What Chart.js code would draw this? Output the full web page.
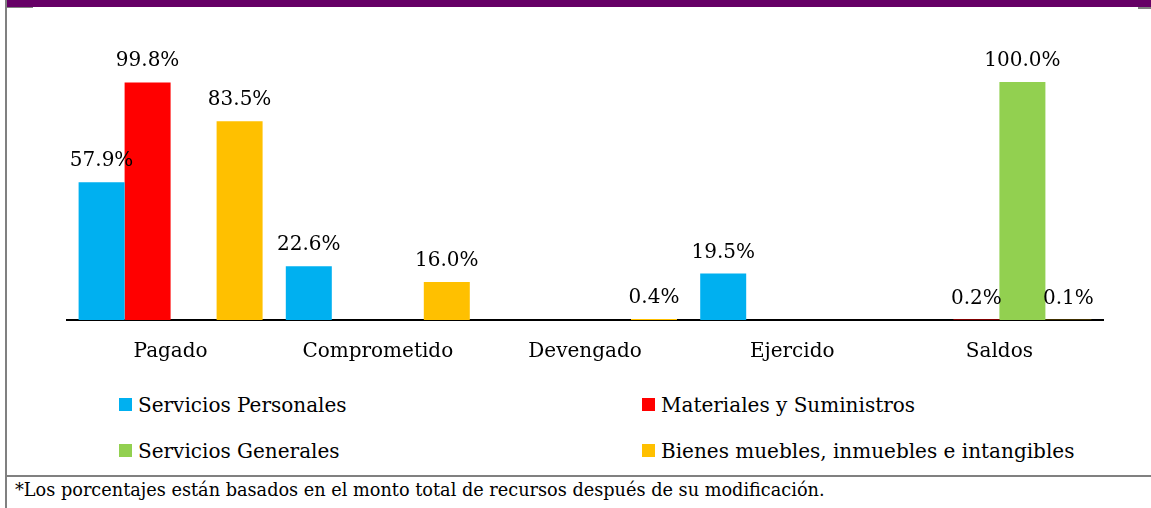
<!DOCTYPE html>
<html>
<head>
<meta charset="utf-8">
<script src="https://cdn.jsdelivr.net/npm/chart.js@4"></script>
<style>
  html, body { margin: 0; padding: 0; background: #fff; }
  body { width: 1151px; height: 508px; position: relative; overflow: hidden; font-family: "DejaVu Serif", serif; color: #000; }
  .topbar { position: absolute; left: 7px; top: 0; width: 1144px; height: 7px; background: #660066; }
  .leftline { position: absolute; left: 5px; top: 0; width: 2px; height: 508px; background: #808080; }
  .tick1 { position: absolute; left: 7px; top: 7px; width: 26px; height: 1px; background: #808080; }
  .tick2 { position: absolute; left: 1138px; top: 7px; width: 13px; height: 2px; background: #808080; }
  .sep { position: absolute; left: 7px; top: 475px; width: 1144px; height: 2px; background: #808080; }
  #chart { position: absolute; left: 0; top: 0; }
  .leg { position: absolute; font-size: 20px; line-height: 20px; white-space: nowrap; }
  .leg .box { position: absolute; width: 13px; height: 13px; }
  .foot { position: absolute; left: 15px; top: 482px; font-size: 17.7px; line-height: 17.7px; white-space: nowrap; }
</style>
</head>
<body>
<div class="topbar"></div>
<div class="leftline"></div>
<div class="tick1"></div>
<div class="tick2"></div>
<div class="sep"></div>
<canvas id="chart" width="1151" height="380"></canvas>
<div id="legend"></div>
<div class="foot">*Los porcentajes están basados en el monto total de recursos después de su modificación.</div>
<script>
const categories = ['Pagado', 'Comprometido', 'Devengado', 'Ejercido', 'Saldos'];
const seriesNames = ['Servicios Personales', 'Materiales y Suministros', 'Servicios Generales', 'Bienes muebles, inmuebles e intangibles'];
const serviciosPersonales = [57.9, 22.6, null, 19.5, null];
const materialesSuministros = [99.8, null, null, null, 0.2];
const serviciosGenerales = [null, null, null, null, 100.0];
const bienesMuebles = [83.5, 16.0, 0.4, null, 0.1];
const seriesColors = ['#00B0F0', '#FF0000', '#92D050', '#FFC000'];

const seriesData = [serviciosPersonales, materialesSuministros, serviciosGenerales, bienesMuebles];

const valueLabels = {
  id: 'valueLabels',
  afterDatasetsDraw(chart) {
    const ctx = chart.ctx;
    ctx.save();
    ctx.font = '20px "DejaVu Serif"';
    ctx.fillStyle = '#000';
    ctx.textAlign = 'center';
    ctx.textBaseline = 'alphabetic';
    chart.data.datasets.forEach((ds, i) => {
      const meta = chart.getDatasetMeta(i);
      meta.data.forEach((bar, j) => {
        const v = ds.data[j];
        if (v === null || v === undefined) return;
        ctx.fillText(v.toFixed(1) + '%', bar.x, bar.y - 16);
      });
    });
    ctx.restore();
  }
};

const chart = new Chart(document.getElementById('chart'), {
  type: 'bar',
  data: {
    labels: categories,
    datasets: seriesNames.map((name, i) => ({
      label: name,
      data: seriesData[i],
      backgroundColor: seriesColors[i],
      borderWidth: 0,
      categoryPercentage: 0.888,
      barPercentage: 1.0
    }))
  },
  options: {
    responsive: false,
    animation: false,
    devicePixelRatio: 1,
    layout: { padding: { left: 67, right: 48, top: 34.4, bottom: 0 } },
    plugins: { legend: { display: false }, tooltip: { enabled: false } },
    scales: {
      x: {
        grid: { display: true, drawOnChartArea: false, drawTicks: false, color: 'rgba(0,0,0,0)' },
        border: { display: true, color: '#000', width: 2 },
        ticks: { color: '#000', font: { family: 'DejaVu Serif', size: 20 }, padding: 20 },
        afterFit(scale) { scale.height = 60; }
      },
      y: {
        display: false,
        min: 0,
        max: 120
      }
    }
  },
  plugins: [valueLabels]
});

// HTML legend built from the chart's datasets
const legendPos = [
  { left: 119, top: 395 },
  { left: 642, top: 395 },
  { left: 119, top: 441 },
  { left: 642, top: 441 }
];
const legend = document.getElementById('legend');
chart.data.datasets.forEach((ds, i) => {
  const item = document.createElement('div');
  item.className = 'leg';
  item.style.left = legendPos[i].left + 'px';
  item.style.top = legendPos[i].top + 'px';
  item.style.paddingLeft = '19px';
  const box = document.createElement('span');
  box.className = 'box';
  box.style.left = '0px';
  box.style.top = '3px';
  box.style.background = ds.backgroundColor;
  item.appendChild(box);
  item.appendChild(document.createTextNode(ds.label));
  legend.appendChild(item);
});
</script>
</body>
</html>
